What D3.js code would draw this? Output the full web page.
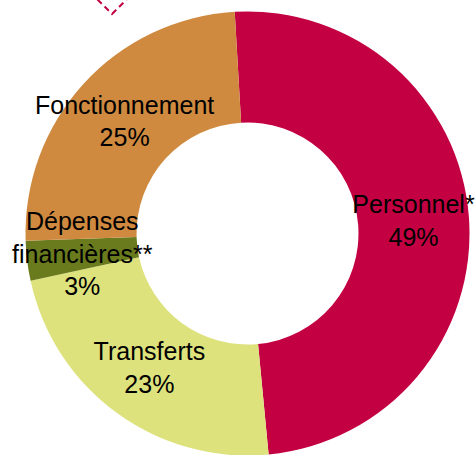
<!DOCTYPE html>
<html lang="fr">
<head>
<meta charset="UTF-8">
<title>Répartition des dépenses</title>
<script src="https://d3js.org/d3.v7.min.js"></script>
<style>
  html, body { margin: 0; padding: 0; background: #fff; }
  svg { display: block; }
</style>
</head>
<body>
<svg id="chart"></svg>
<script>
// categories, clockwise from top
const categories = ["Personnel*", "Transferts", "Dépenses financières**", "Fonctionnement"];
const labelLines = [["Personnel*"], ["Transferts"], ["Dépenses", "financières**"], ["Fonctionnement"]];
const values = [49.4, 23.1, 2.9, 24.6];
const pctLabels = ["49%", "23%", "3%", "25%"];
const colors = ["#C30042", "#DDE27C", "#6A7B1E", "#CF8A40"];

const width = 475, height = 455;
const cx = 247.5, cy = 233.5;
const outerR = 222, innerR = 111;

const svg = d3.select("#chart")
    .attr("width", width)
    .attr("height", height);

// dashed diamond marker peeking in at the top
svg.append("path")
    .attr("d", "M112,14 L128,-2 L112,-18 L96,-2 Z")
    .attr("fill", "none")
    .attr("stroke", "#C30042")
    .attr("stroke-width", 2)
    .attr("stroke-dasharray", "6,4");

const g = svg.append("g")
    .attr("transform", `translate(${cx},${cy})`);

const startA = -3.3 * Math.PI / 180;
const pie = d3.pie()
    .sort(null)
    .value(d => d)
    .startAngle(startA)
    .endAngle(startA + 2 * Math.PI);

const arc = d3.arc()
    .innerRadius(innerR)
    .outerRadius(outerR);

const arcs = pie(values);

g.selectAll("path.slice")
    .data(arcs)
    .join("path")
    .attr("class", "slice")
    .attr("d", arc)
    .attr("fill", (d, i) => colors[i]);

// labels: name lines + percentage, centred on the arc centroid
const fontSize = 25, lineH = 32.5, capH = 17.5;
const labels = g.selectAll("text.lbl")
    .data(arcs)
    .join("text")
    .attr("class", "lbl")
    .attr("text-anchor", "middle")
    .attr("font-family", "'Liberation Sans', Arial, sans-serif")
    .attr("font-size", fontSize)
    .attr("fill", "#000");

labels.each(function(d, i) {
    const [x, y] = arc.centroid(d);
    const lines = labelLines[i].concat([pctLabels[i]]);
    const y0 = y - (lines.length - 1) * lineH / 2 + capH / 2;
    d3.select(this).selectAll("tspan")
        .data(lines)
        .join("tspan")
        .attr("x", x)
        .attr("y", (t, k) => y0 + k * lineH)
        .text(t => t);
});
</script>
</body>
</html>
